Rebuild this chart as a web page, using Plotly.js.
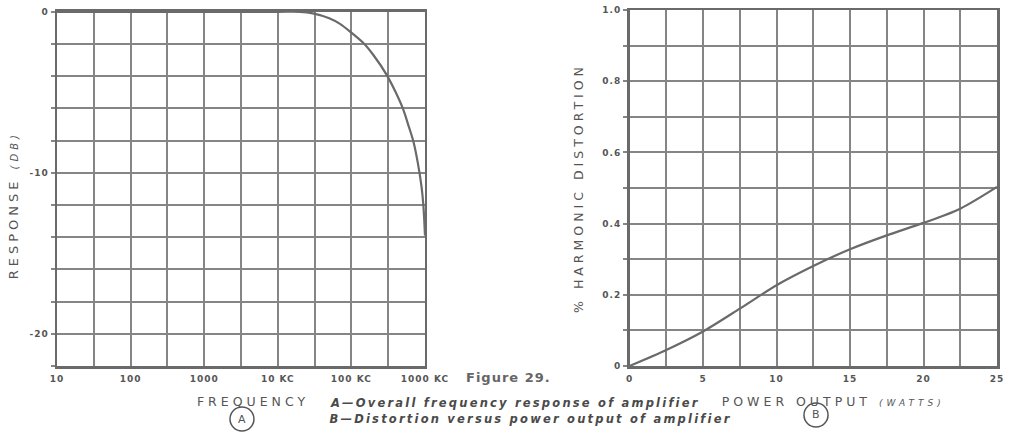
<!DOCTYPE html>
<html>
<head>
<meta charset="utf-8">
<script src="https://cdn.plot.ly/plotly-3.0.1.min.js"></script>
<style>
  html, body { margin: 0; padding: 0; background: #fff; }
  #chart { width: 1015px; height: 444px; }
  .g-xtitle text, .g-x2title text, .g-y2title text, .g-ytitle text { letter-spacing: 4px; }
  .xtick text, .x2tick text, .ytick text, .y2tick text { letter-spacing: 1px; }
  .annotation[data-index="2"] text { letter-spacing: 1px; }
  .annotation[data-index="3"] text, .annotation[data-index="4"] text { letter-spacing: 2.2px; }
</style>
</head>
<body>
<div id="chart"></div>
<script>
// ---- Chart A: overall frequency response ----
const freqA = [10, 1000, 10000, 20000, 30000, 50000, 70000, 100000, 150000, 200000, 300000, 400000, 500000, 600000, 700000, 800000, 900000, 950000, 1000000];
const respA = [0, 0, 0, 0, -0.1, -0.4, -0.75, -1.3, -2.0, -2.7, -3.9, -5.0, -6.0, -7.1, -8.1, -9.4, -10.9, -12.0, -13.9];

// ---- Chart B: distortion versus power output ----
const powerB = [0, 2.5, 5, 7.5, 10, 12.5, 15, 17.5, 20, 22.5, 25];
const distB = [0, 0.045, 0.097, 0.161, 0.227, 0.281, 0.328, 0.367, 0.402, 0.442, 0.503];

// ---- Tick labels ----
const freqTickVals = [10, 31.6228, 100, 316.228, 1000, 3162.28, 10000, 31622.8, 100000, 316228, 1000000];
const freqTickText = ['10', '', '100', '', '1000', '', '10 KC', '', '100 KC', '', '1000 KC'];
const respTickVals = [0, -2, -4, -6, -8, -10, -12, -14, -16, -18, -20, -22];
const respTickText = ['0', '', '', '', '', '-10', '', '', '', '', '-20', ''];
const powerTickVals = [0, 2.5, 5, 7.5, 10, 12.5, 15, 17.5, 20, 22.5, 25];
const powerTickText = ['0', '', '5', '', '10', '', '15', '', '20', '', '25'];
const distTickVals = [0, 0.1, 0.2, 0.3, 0.4, 0.5, 0.6, 0.7, 0.8, 0.9, 1.0];
const distTickText = ['0', '', '0.2', '', '0.4', '', '0.6', '', '0.8', '', '1.0'];

const ink = '#6a6a6a';
const gridInk = '#858585';
const tickFont = { family: 'DejaVu Sans', size: 9, color: '#555', weight: 'bold' };
const titleFont = { family: 'DejaVu Sans', size: 12.5, color: '#555' };
const capFont = { family: 'DejaVu Sans', size: 11.5, color: '#4a4a4a' };

const traces = [
  { x: freqA, y: respA, xaxis: 'x', yaxis: 'y', mode: 'lines', type: 'scatter',
    line: { color: ink, width: 2.2, shape: 'spline', smoothing: 1 }, hoverinfo: 'skip' },
  { x: powerB, y: distB, xaxis: 'x2', yaxis: 'y2', mode: 'lines', type: 'scatter',
    line: { color: ink, width: 2.2, shape: 'spline', smoothing: 0.8 }, hoverinfo: 'skip' }
];

const axisCommon = {
  showgrid: true, gridcolor: gridInk, gridwidth: 2,
  showline: true, linecolor: ink, linewidth: 2.5, mirror: true,
  zeroline: false, tickfont: tickFont, tickmode: 'array', fixedrange: true
};

const layout = {
  width: 1015, height: 444,
  margin: { l: 0, r: 0, t: 10, b: 78 },
  paper_bgcolor: '#fff', plot_bgcolor: '#fff',
  showlegend: false,
  xaxis: Object.assign({}, axisCommon, {
    type: 'log', domain: [0.0562, 0.4187], range: [1, 6],
    tickvals: freqTickVals, ticktext: freqTickText, ticks: '', ticklabelstandoff: 3,
    anchor: 'y',
    title: { text: '&nbsp;&nbsp;&nbsp;FREQUENCY', font: titleFont, standoff: 14 }
  }),
  yaxis: Object.assign({}, axisCommon, {
    domain: [0, 0.995], range: [-22, 0],
    tickvals: respTickVals, ticktext: respTickText,
    ticks: 'outside', ticklen: 4, tickcolor: gridInk, tickwidth: 2,
    anchor: 'x',
    title: { text: 'RESPONSE <i><span style="font-size:10px">(DB)</span></i>&nbsp;&nbsp;&nbsp;&nbsp;', font: { family: 'DejaVu Sans', size: 13, color: '#555' }, standoff: 8 }
  }),
  xaxis2: Object.assign({}, axisCommon, {
    domain: [0.6202, 0.9823], range: [0, 25],
    tickvals: powerTickVals, ticktext: powerTickText, ticks: '', ticklabelstandoff: 3,
    anchor: 'y2',
    title: { text: '&nbsp;&nbsp;&nbsp;&nbsp;&nbsp;POWER OUTPUT <i><span style="font-size:9px">(WATTS)</span></i>', font: titleFont, standoff: 14 }
  }),
  yaxis2: Object.assign({}, axisCommon, {
    domain: [0, 1], range: [0, 1.0],
    tickvals: distTickVals, ticktext: distTickText,
    ticks: 'outside', ticklen: 4, tickcolor: gridInk, tickwidth: 2,
    anchor: 'x2',
    title: { text: '% HARMONIC DISTORTION', font: titleFont, standoff: 16 }
  }),
  shapes: [
    { type: 'circle', xref: 'paper', yref: 'paper', x0: 0.2266, x1: 0.2502, y0: -0.1826, y1: -0.1152,
      line: { color: '#555', width: 1.5 } },
    { type: 'circle', xref: 'paper', yref: 'paper', x0: 0.7921, x1: 0.8158, y0: -0.1713, y1: -0.1039,
      line: { color: '#555', width: 1.5 } }
  ],
  annotations: [
    { text: 'A', xref: 'paper', yref: 'paper', x: 0.2384, y: -0.1489, xanchor: 'center', yanchor: 'middle',
      showarrow: false, font: { family: 'DejaVu Sans', size: 11, color: '#555' } },
    { text: 'B', xref: 'paper', yref: 'paper', x: 0.8040, y: -0.1376, xanchor: 'center', yanchor: 'middle',
      showarrow: false, font: { family: 'DejaVu Sans', size: 11, color: '#555' } },
    { text: '<b>Figure 29.</b>', xref: 'paper', yref: 'paper', x: 0.5005, y: -0.031, xanchor: 'center', yanchor: 'middle',
      showarrow: false, font: { family: 'DejaVu Sans', size: 13, color: '#666' } },
    { text: '<b><i>A—Overall frequency response of amplifier</i></b>', xref: 'paper', yref: 'paper',
      x: 0.5074, y: -0.104, xanchor: 'center', yanchor: 'middle', showarrow: false, font: capFont },
    { text: '<b><i>B—Distortion versus power output of amplifier</i></b>', xref: 'paper', yref: 'paper',
      x: 0.5232, y: -0.149, xanchor: 'center', yanchor: 'middle', showarrow: false, font: capFont }
  ]
};

Plotly.newPlot('chart', traces, layout, { staticPlot: true, displayModeBar: false });
</script>
</body>
</html>
